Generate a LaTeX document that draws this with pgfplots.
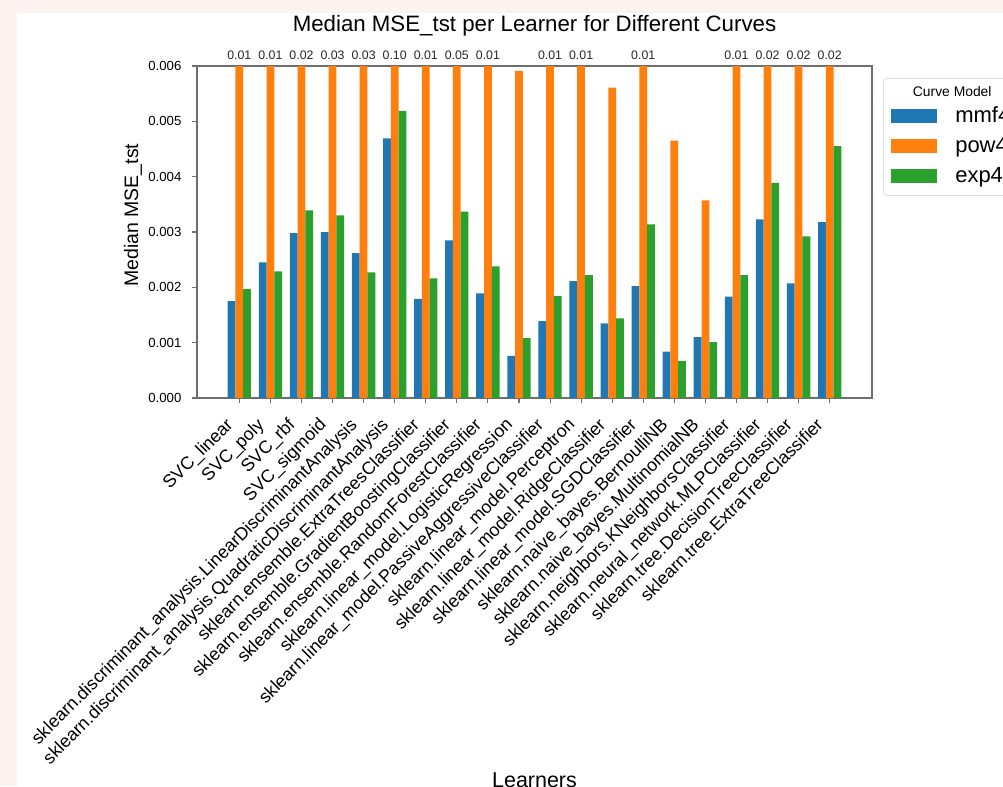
\documentclass[border=0pt]{standalone}
\usepackage{pgfplots}
\pgfplotsset{compat=1.18}
\usepackage{pgfplotstable}
\usepackage{fontspec}
\setmainfont{Liberation Sans}
\definecolor{bgpink}{RGB}{252,242,239}
\definecolor{c1}{HTML}{1F77B4}
\definecolor{c2}{HTML}{FF7F0E}
\definecolor{c3}{HTML}{2CA02C}
\definecolor{axgray}{RGB}{110,110,110}

\pgfplotstableread{
x  mmf4    pow4     exp4    lab
0  0.00175 0.0100   0.00197 0.01
1  0.00245 0.0100   0.00229 0.01
2  0.00298 0.0200   0.00339 0.02
3  0.00300 0.0300   0.00330 0.03
4  0.00262 0.0300   0.00227 0.03
5  0.00469 0.1000   0.00519 0.10
6  0.00179 0.0100   0.00216 0.01
7  0.00285 0.0500   0.00337 0.05
8  0.00189 0.0100   0.00238 0.01
9  0.00076 0.00591  0.00108 {}
10 0.00139 0.0100   0.00184 0.01
11 0.00211 0.0100   0.00222 0.01
12 0.00135 0.00561  0.00144 {}
13 0.00202 0.0100   0.00314 0.01
14 0.00084 0.00465  0.00067 {}
15 0.00110 0.00357  0.00101 {}
16 0.00183 0.0100   0.00222 0.01
17 0.00323 0.0200   0.00389 0.02
18 0.00207 0.0200   0.00292 0.02
19 0.00318 0.0200   0.00455 0.02
}\datatable

\begin{document}
\begin{tikzpicture}
\fill[bgpink] (0,0) rectangle (752.25pt,589.5pt);
\fill[white] (12.75pt,0) rectangle (752.25pt,579.75pt);
\begin{axis}[
  at={(147.75pt,291pt)}, anchor=south west,
  scale only axis, width=506.25pt, height=249pt,
  xmin=-1.3625, xmax=20.3625, ymin=0, ymax=0.006,
  ybar, bar width=0.25,
  every axis plot post/.append style={bar shift=0pt},
  clip=false,
  axis line style={axgray, line width=0.8pt},
  tick style={axgray, line width=0.8pt},
  major tick length=4pt, tick align=outside, tick pos=left,
  xtick={0,...,19},
  xticklabels={SVC\_linear, SVC\_poly, SVC\_rbf, SVC\_sigmoid,
    sklearn.discriminant\_analysis.LinearDiscriminantAnalysis,
    sklearn.discriminant\_analysis.QuadraticDiscriminantAnalysis,
    sklearn.ensemble.ExtraTreesClassifier,
    sklearn.ensemble.GradientBoostingClassifier,
    sklearn.ensemble.RandomForestClassifier,
    sklearn.linear\_model.LogisticRegression,
    sklearn.linear\_model.PassiveAggressiveClassifier,
    sklearn.linear\_model.Perceptron,
    sklearn.linear\_model.RidgeClassifier,
    sklearn.linear\_model.SGDClassifier,
    sklearn.naive\_bayes.BernoulliNB,
    sklearn.naive\_bayes.MultinomialNB,
    sklearn.neighbors.KNeighborsClassifier,
    sklearn.neural\_network.MLPClassifier,
    sklearn.tree.DecisionTreeClassifier,
    sklearn.tree.ExtraTreeClassifier},
  xticklabel style={font=\fontsize{13.4}{15}\selectfont, inner sep=0pt,
    xshift=-11pt, yshift=-9.75pt, rotate=45, anchor=north east},
  ytick={0,0.001,0.002,0.003,0.004,0.005,0.006},
  scaled y ticks=false,
  /pgf/number format/assume math mode=true,
  yticklabel style={font=\fontsize{9.9}{11}\selectfont, inner sep=0pt, anchor=east, xshift=-7.5pt,
    /pgf/number format/.cd, fixed, fixed zerofill, precision=3},
  title={Median MSE\_tst per Learner for Different Curves},
  title style={font=\fontsize{16.7}{19}\selectfont, at={(axis description cs:0.5,1.0813)}, anchor=base, inner sep=0pt},
  ylabel={Median MSE\_tst},
  ylabel style={font=\fontsize{14.6}{17}\selectfont, at={(axis description cs:-0.0948,0.551)}, anchor=center, inner sep=0pt},
  xlabel={Learners},
  xlabel style={font=\fontsize{16.1}{18}\selectfont, at={(axis description cs:0.5,-1.1717)}, anchor=base, inner sep=0pt},
  legend style={at={(axis description cs:1.0163,0.9639)}, anchor=north west,
    draw=black!18, rounded corners=3pt, fill=white,
    inner xsep=6pt, inner ysep=6.5pt, row sep=6pt,
    font=\fontsize{16.5}{18}\selectfont,
    nodes={inner sep=0pt, text height=13pt, text depth=3.5pt},
    cells={anchor=west},
    /tikz/every odd column/.append style={column sep=13.5pt}},
]
\addlegendimage{empty legend}
\addlegendentry[font=\fontsize{10.4}{12}\selectfont, text height=7.5pt, text depth=0pt]{\makebox[0pt][l]{\hspace*{-32.25pt}Curve Model}}
\addplot[fill=c1, draw=none, legend image code/.code={\fill[c1, sharp corners] (0pt,-5.5pt) rectangle (34.5pt,5.5pt);}]
  table[x expr=\thisrow{x}-0.25, y=mmf4] {\datatable};
\addlegendentry{mmf4}
\addplot[fill=c2, draw=none, restrict y to domain*=0:0.006,
  nodes near coords, point meta=explicit symbolic,
  every node near coord/.append style={font=\fontsize{9.25}{10}\selectfont, anchor=south, inner sep=0pt, yshift=4.5pt, text=black!85},
  legend image code/.code={\fill[c2, sharp corners] (0pt,-5.5pt) rectangle (34.5pt,5.5pt);}]
  table[x=x, y=pow4, meta=lab] {\datatable};
\addlegendentry{pow4}
\addplot[fill=c3, draw=none, legend image code/.code={\fill[c3, sharp corners] (0pt,-5.5pt) rectangle (34.5pt,5.5pt);}]
  table[x expr=\thisrow{x}+0.25, y=exp4] {\datatable};
\addlegendentry{exp4}
\end{axis}
\pgfresetboundingbox
\useasboundingbox (0,0) rectangle (752.25pt,589.5pt);
\end{tikzpicture}
\end{document}
